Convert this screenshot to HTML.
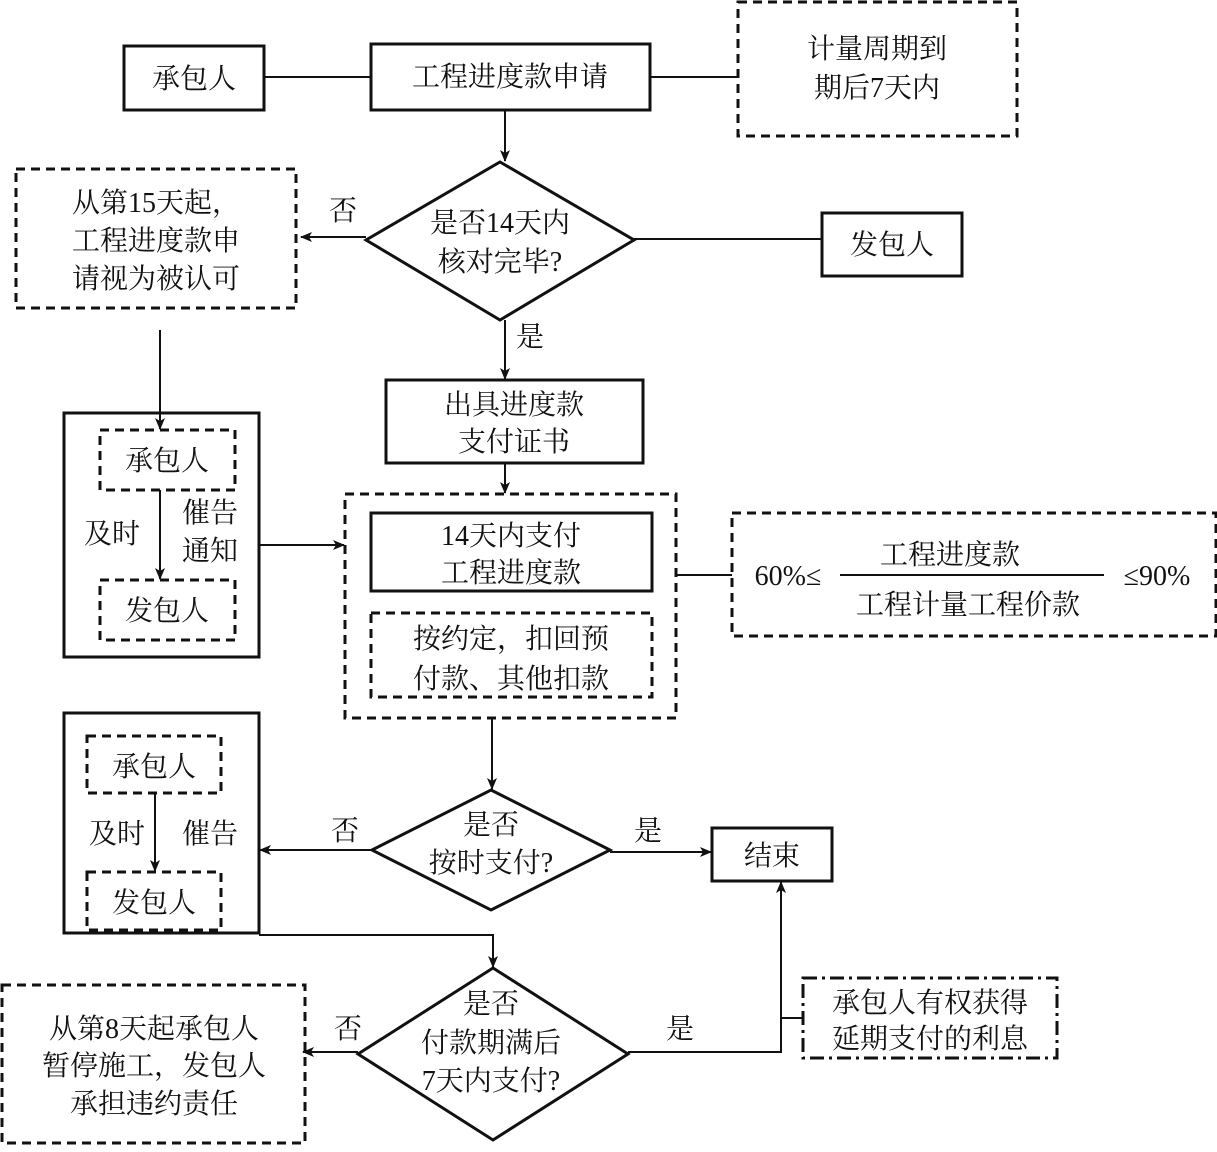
<!DOCTYPE html>
<html><head><meta charset="utf-8"><style>
html,body{margin:0;padding:0;background:#fff}
svg text{font-family:"Liberation Serif","Noto Serif CJK SC","Noto Sans CJK SC",serif;font-size:28px;fill:#111;text-anchor:middle}
</style></head><body>
<svg width="1217" height="1147" viewBox="0 0 1217 1147" xmlns="http://www.w3.org/2000/svg">
<defs><marker id="a" markerWidth="12" markerHeight="10" refX="11" refY="5" orient="auto" markerUnits="userSpaceOnUse"><path d="M0,0 L12,5 L0,10 L3,5 Z" fill="#111"/></marker></defs>
<g fill="none" stroke="#111" stroke-width="3">
<rect x="124" y="46" width="140" height="64"/>
<rect x="371" y="44" width="279" height="66"/>
<rect x="738" y="2" width="279" height="134" stroke-dasharray="9,6"/>
<rect x="822" y="213" width="140" height="63"/>
<rect x="16" y="169" width="280" height="139" stroke-dasharray="9,6"/>
<rect x="64" y="413" width="195" height="244"/>
<rect x="100" y="430" width="135" height="60" stroke-dasharray="9,6"/>
<rect x="100" y="580" width="135" height="60" stroke-dasharray="9,6"/>
<rect x="386" y="380" width="257" height="83"/>
<rect x="345" y="494" width="331" height="224" stroke-dasharray="9,6"/>
<rect x="371" y="513" width="281" height="78"/>
<rect x="371" y="613" width="281" height="84" stroke-dasharray="9,6"/>
<rect x="732" y="513" width="484" height="123" stroke-dasharray="9,6"/>
<rect x="712" y="828" width="120" height="53"/>
<rect x="64" y="713" width="195" height="220"/>
<rect x="87" y="736" width="134" height="57" stroke-dasharray="9,6"/>
<rect x="87" y="872" width="134" height="58" stroke-dasharray="9,6"/>
<rect x="2" y="985" width="303" height="158" stroke-dasharray="9,6"/>
<rect x="803" y="978" width="254" height="80" stroke-dasharray="14,5,3,5"/>
<polygon points="500,162 634,240 500,320 366,240"/>
<polygon points="491,790 610,850 491,910 372,850"/>
<polygon points="493,968 628,1054 493,1140 358,1054"/>
</g>
<g fill="none" stroke="#111" stroke-width="2">
<line x1="264" y1="77" x2="371" y2="77"/>
<line x1="650" y1="77" x2="738" y2="77"/>
<line x1="505" y1="110" x2="505" y2="161" marker-end="url(#a)"/>
<line x1="634" y1="239" x2="822" y2="239"/>
<line x1="366" y1="237" x2="301" y2="237" marker-end="url(#a)"/>
<line x1="160" y1="330" x2="160" y2="429" marker-end="url(#a)"/>
<line x1="160" y1="490" x2="160" y2="579" marker-end="url(#a)"/>
<line x1="259" y1="545" x2="344" y2="545" marker-end="url(#a)"/>
<line x1="505" y1="320" x2="505" y2="379" marker-end="url(#a)"/>
<line x1="505" y1="463" x2="505" y2="493" marker-end="url(#a)"/>
<line x1="676" y1="575" x2="732" y2="575"/>
<line x1="840" y1="575" x2="1104" y2="575"/>
<line x1="492" y1="718" x2="492" y2="789" marker-end="url(#a)"/>
<line x1="372" y1="850" x2="260" y2="850" marker-end="url(#a)"/>
<line x1="610" y1="852" x2="711" y2="852" marker-end="url(#a)"/>
<line x1="155" y1="793" x2="155" y2="871" marker-end="url(#a)"/>
<polyline points="259,935 493,935 493,967" marker-end="url(#a)"/>
<line x1="358" y1="1052" x2="303" y2="1052" marker-end="url(#a)"/>
<polyline points="628,1052 781,1052 781,882" marker-end="url(#a)"/>
<line x1="781" y1="1018" x2="803" y2="1018"/>
</g>
<text x="194" y="88">承包人</text>
<text x="510" y="86">工程进度款申请</text>
<text x="877" y="58">计量周期到</text>
<text x="877" y="97">期后7天内</text>
<text x="500" y="232">是否14天内</text>
<text x="500" y="271">核对完毕?</text>
<text x="892" y="254">发包人</text>
<text x="343" y="220">否</text>
<text x="156" y="212">从第15天起，</text>
<text x="156" y="250">工程进度款申</text>
<text x="156" y="288">请视为被认可</text>
<text x="530" y="346">是</text>
<text x="514" y="414">出具进度款</text>
<text x="514" y="451">支付证书</text>
<text x="167" y="470">承包人</text>
<text x="167" y="620">发包人</text>
<text x="112" y="543">及时</text>
<text x="210" y="522">催告</text>
<text x="210" y="560">通知</text>
<text x="511" y="545">14天内支付</text>
<text x="511" y="582">工程进度款</text>
<text x="511" y="648">按约定，扣回预</text>
<text x="511" y="688">付款、其他扣款</text>
<text x="788" y="585">60%≤</text>
<text x="950" y="564">工程进度款</text>
<text x="968" y="614">工程计量工程价款</text>
<text x="1157" y="585">≤90%</text>
<text x="154" y="776">承包人</text>
<text x="154" y="912">发包人</text>
<text x="117" y="843">及时</text>
<text x="210" y="843">催告</text>
<text x="491" y="834">是否</text>
<text x="491" y="872">按时支付?</text>
<text x="345" y="840">否</text>
<text x="648" y="840">是</text>
<text x="772" y="865">结束</text>
<text x="491" y="1013">是否</text>
<text x="491" y="1052">付款期满后</text>
<text x="491" y="1090">7天内支付?</text>
<text x="348" y="1038">否</text>
<text x="680" y="1038">是</text>
<text x="154" y="1038">从第8天起承包人</text>
<text x="154" y="1075">暂停施工，发包人</text>
<text x="154" y="1113">承担违约责任</text>
<text x="930" y="1012">承包人有权获得</text>
<text x="930" y="1048">延期支付的利息</text>
</svg>
</body></html>
